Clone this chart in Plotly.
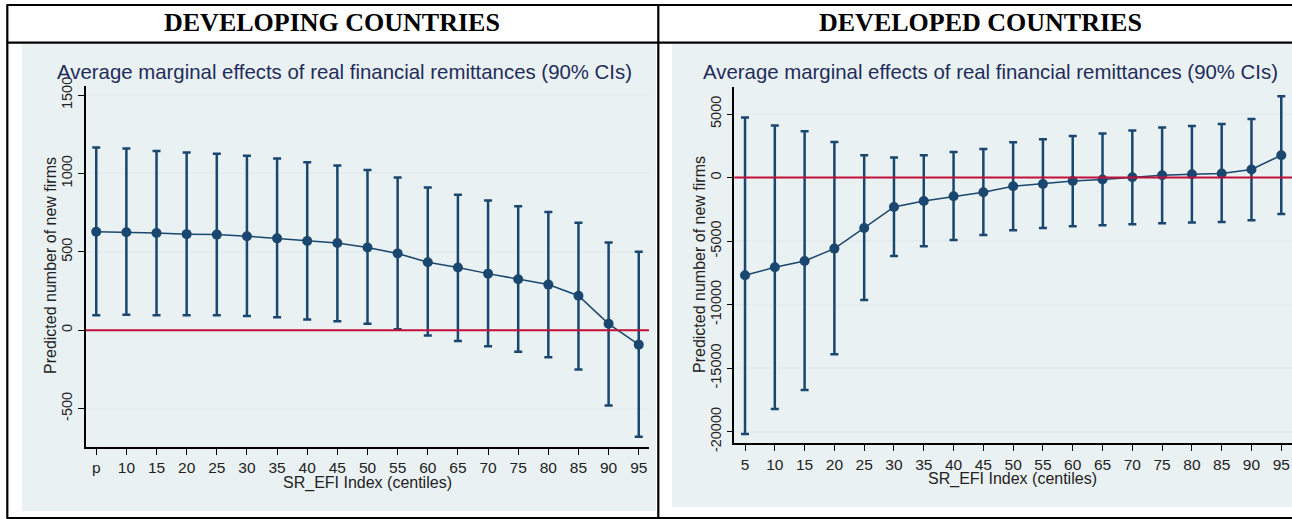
import plotly.graph_objects as go

W, H = 1292, 519

# SR_EFI centiles
centiles = [5, 10, 15, 20, 25, 30, 35, 40, 45, 50, 55, 60, 65, 70, 75, 80, 85, 90, 95]
dev_tick_labels = ["p", "10", "15", "20", "25", "30", "35", "40", "45", "50",
                   "55", "60", "65", "70", "75", "80", "85", "90", "95"]
adv_tick_labels = [str(c) for c in centiles]

# Developing countries: margins and 90% CI bounds
dev_margin = [628, 625, 620, 613, 610, 600, 586, 569, 556, 528, 490, 434, 400, 361, 325, 291, 220, 41, -92]
dev_upper = [1165, 1160, 1143, 1133, 1126, 1113, 1096, 1071, 1051, 1022, 974, 910, 865, 827, 791, 754, 686, 560, 500]
dev_lower = [96, 99, 96, 96, 96, 90, 83, 69, 58, 41, 6, -34, -68, -103, -137, -173, -250, -481, -680]

# Developed countries: margins and 90% CI bounds
adv_margin = [-7693, -7063, -6567, -5591, -3968, -2315, -1842, -1472, -1157, -685, -504, -268, -157, 24, 181, 260, 315, 630, 1756]
adv_upper = [4724, 4094, 3646, 2803, 1756, 1575, 1756, 2016, 2252, 2780, 3016, 3276, 3465, 3701, 3937, 4063, 4220, 4614, 6402]
adv_lower = [-20180, -18220, -16724, -13913, -9638, -6173, -5409, -4913, -4520, -4150, -3968, -3835, -3756, -3677, -3598, -3543, -3496, -3362, -2866]

dev_yticks = [-500, 0, 500, 1000, 1500]
adv_yticks = [-20000, -15000, -10000, -5000, 0, 5000]

NAVY = "#1a476f"
TITLE = "#1e2d5a"
BG = "#eaf1f3"
GRID = "#e4ecef"
RED = "#c4103a"


def px_x(v):
    return v / W


def px_y(v):
    return 1 - v / H


def series(x, m, lo, hi, xa, ya):
    return go.Scatter(
        x=x, y=m, xaxis=xa, yaxis=ya, mode="lines+markers",
        line=dict(color=NAVY, width=1.5),
        marker=dict(color=NAVY, size=10),
        error_y=dict(type="data", symmetric=False,
                     array=[h - v for h, v in zip(hi, m)],
                     arrayminus=[v - l for v, l in zip(m, lo)],
                     color=NAVY, thickness=2.5, width=4),
        showlegend=False, cliponaxis=False,
    )


fig = go.Figure()
fig.add_trace(series(centiles, dev_margin, dev_lower, dev_upper, "x", "y"))
fig.add_trace(series(centiles, adv_margin, adv_lower, adv_upper, "x2", "y2"))

xfont = dict(family="Liberation Sans, Arial, sans-serif", size=15.5, color="#222222")
yfont = dict(family="Liberation Sans, Arial, sans-serif", size=14.5, color="#222222")
xcommon = dict(showgrid=False, zeroline=False, showline=True, linecolor="#000000", linewidth=1.5,
               ticks="outside", ticklen=6, tickwidth=1.3, tickcolor="#000000",
               tickfont=xfont, fixedrange=True, automargin=False)
ycommon = dict(showgrid=True, gridcolor=GRID, gridwidth=2, zeroline=False, showline=True,
               linecolor="#000000", linewidth=1.5, ticks="outside", ticklen=6, tickwidth=1.3,
               tickcolor="#000000", tickfont=yfont, tickangle=-90, fixedrange=True, automargin=False)


def signed(v):
    return str(v).replace("\u2212", "-")


fig.update_layout(
    width=W, height=H, autosize=False,
    margin=dict(l=0, r=0, t=0, b=0, pad=0, autoexpand=False),
    paper_bgcolor="white", plot_bgcolor="white", showlegend=False,
    xaxis=dict(domain=[px_x(86), px_x(649)], range=[3.3, 96.7], anchor="y",
               tickvals=centiles, ticktext=dev_tick_labels, **xcommon),
    yaxis=dict(domain=[px_y(447), px_y(86)], range=[-745, 1558], anchor="x",
               tickvals=dev_yticks, ticktext=[signed(v) for v in dev_yticks], **ycommon),
    xaxis2=dict(domain=[px_x(734.3), 1.0], range=[3.2, 96.8], anchor="y2",
                tickvals=centiles, ticktext=adv_tick_labels, **xcommon),
    yaxis2=dict(domain=[px_y(443.3), px_y(86.7)], range=[-20913, 7150], anchor="x2",
                tickvals=adv_yticks, ticktext=[signed(v) for v in adv_yticks], **ycommon),
)

shapes = [
    # panel backgrounds
    dict(type="rect", xref="paper", yref="paper", x0=px_x(22), x1=px_x(656), y0=px_y(511), y1=px_y(44),
         fillcolor=BG, line=dict(width=0), layer="below"),
    dict(type="rect", xref="paper", yref="paper", x0=px_x(672), x1=1.0, y0=px_y(507), y1=px_y(44),
         fillcolor=BG, line=dict(width=0), layer="below"),
    # zero reference lines
    dict(type="line", xref="x domain", yref="y", x0=0, x1=1, y0=0, y1=0, line=dict(color=RED, width=2)),
    dict(type="line", xref="x2 domain", yref="y2", x0=0, x1=1, y0=0, y1=0, line=dict(color=RED, width=2)),
]
# table frame
frame = dict(color="#000000", width=2.2)
shapes += [
    dict(type="line", xref="paper", yref="paper", x0=px_x(6.5), x1=1.0, y0=px_y(5), y1=px_y(5), line=frame),
    dict(type="line", xref="paper", yref="paper", x0=px_x(6.5), x1=1.0, y0=px_y(42.7), y1=px_y(42.7), line=frame),
    dict(type="line", xref="paper", yref="paper", x0=px_x(6.5), x1=1.0, y0=px_y(518), y1=px_y(518), line=frame),
    dict(type="line", xref="paper", yref="paper", x0=px_x(7.3), x1=px_x(7.3), y0=px_y(5), y1=px_y(518), line=frame),
    dict(type="line", xref="paper", yref="paper", x0=px_x(658.3), x1=px_x(658.3), y0=px_y(5), y1=px_y(518), line=frame),
]
fig.update_layout(shapes=shapes)

head_font = dict(family="Liberation Serif, Times New Roman, serif", size=26, color="#000000")
title_font = dict(family="Liberation Sans, Arial, sans-serif", size=20.4, color=TITLE)
axis_font = dict(family="Liberation Sans, Arial, sans-serif", size=16, color="#222222")
plot_title = "Average marginal effects of real financial remittances (90% CIs)"
ytitle = "Predicted number of new firms"
xtitle = "SR_EFI Index (centiles)"


def ann(text, x, y, font, angle=0):
    return dict(text=text, x=px_x(x), y=px_y(y), xref="paper", yref="paper",
                xanchor="center", yanchor="middle", showarrow=False, font=font, textangle=angle)


fig.update_layout(annotations=[
    ann("<b>DEVELOPING COUNTRIES</b>", 331.5, 22.5, head_font),
    ann("<b>DEVELOPED COUNTRIES</b>", 980, 22.5, head_font),
    ann(plot_title, 344, 72, title_font),
    ann(plot_title, 990, 72, title_font),
    ann(ytitle, 50, 266, axis_font, -90),
    ann(ytitle, 699, 265, axis_font, -90),
    ann(xtitle, 367, 482.5, axis_font),
    ann(xtitle, 1013, 478.5, axis_font),
])

fig.write_html("out.html")
